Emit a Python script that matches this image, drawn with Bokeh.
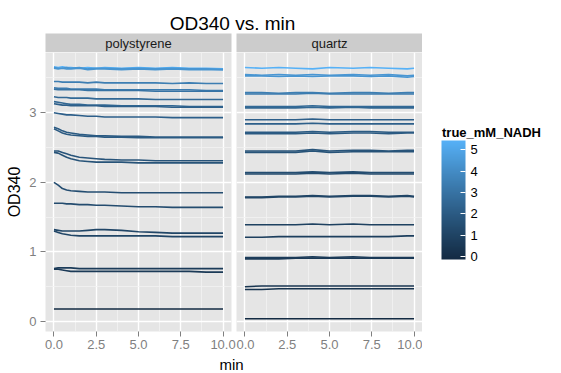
from bokeh.plotting import figure
from bokeh.layouts import row, column
from bokeh.models import (ColumnDataSource, FixedTicker, PrintfTickFormatter,
                          LinearColorMapper, ColorBar, Range1d, Label)
from bokeh.embed import file_html
from bokeh.resources import INLINE

FONT = "Liberation Sans"

# ---------------- data ----------------
panel_names = ["polystyrene", "quartz"]
chart_title = "OD340 vs. min"
x_title = "min"
y_title = "OD340"
legend_title = "true_mM_NADH"

x_breaks = [0, 2.5, 5, 7.5, 10]
x_minor = [1.25, 3.75, 6.25, 8.75]
y_breaks = [0, 1, 2, 3]
y_minor = [0.5, 1.5, 2.5, 3.5]
legend_breaks = [0, 1, 2, 3, 4, 5]
conc_limits = [-0.15, 5.44]

ps_time = [0, 0.25, 0.5, 0.75, 1, 1.5, 2, 2.5, 3, 4, 5, 6, 7, 8, 9, 10]
ps_conc = [5.44, 4.4, 4.35, 3.45, 3.35, 3.0, 2.6, 2.5, 2.2, 2.2, 2.0, 1.95,
           1.7, 1.65, 1.4, 1.35, 1.1, 1.05, 0.6, 0.55, -0.15]
ps_od = [
    [3.66, 3.65, 3.66, 3.65, 3.65, 3.64, 3.65, 3.64, 3.65, 3.64, 3.65, 3.64, 3.65, 3.64, 3.64, 3.63],
    [3.65, 3.64, 3.64, 3.65, 3.64, 3.65, 3.63, 3.64, 3.64, 3.63, 3.64, 3.63, 3.64, 3.63, 3.63, 3.62],
    [3.64, 3.63, 3.64, 3.63, 3.63, 3.64, 3.62, 3.63, 3.63, 3.62, 3.63, 3.62, 3.63, 3.62, 3.62, 3.62],
    [3.45, 3.45, 3.44, 3.44, 3.44, 3.44, 3.43, 3.44, 3.43, 3.43, 3.43, 3.43, 3.42, 3.43, 3.42, 3.42],
    [3.36, 3.35, 3.35, 3.35, 3.34, 3.34, 3.34, 3.34, 3.33, 3.33, 3.33, 3.33, 3.33, 3.33, 3.32, 3.32],
    [3.34, 3.33, 3.33, 3.33, 3.33, 3.33, 3.32, 3.32, 3.32, 3.32, 3.32, 3.31, 3.31, 3.31, 3.31, 3.31],
    [3.23, 3.22, 3.22, 3.22, 3.21, 3.21, 3.21, 3.20, 3.20, 3.20, 3.20, 3.19, 3.19, 3.19, 3.19, 3.19],
    [3.16, 3.15, 3.14, 3.13, 3.12, 3.12, 3.11, 3.11, 3.11, 3.10, 3.10, 3.10, 3.10, 3.09, 3.09, 3.09],
    [3.13, 3.12, 3.11, 3.11, 3.10, 3.10, 3.10, 3.10, 3.09, 3.09, 3.09, 3.09, 3.08, 3.08, 3.08, 3.08],
    [3.00, 2.99, 2.98, 2.97, 2.97, 2.96, 2.95, 2.95, 2.94, 2.94, 2.94, 2.94, 2.93, 2.93, 2.93, 2.93],
    [2.79, 2.77, 2.74, 2.72, 2.71, 2.69, 2.68, 2.67, 2.67, 2.66, 2.66, 2.65, 2.65, 2.65, 2.65, 2.65],
    [2.77, 2.74, 2.71, 2.69, 2.68, 2.67, 2.66, 2.66, 2.65, 2.65, 2.64, 2.64, 2.64, 2.64, 2.64, 2.64],
    [2.45, 2.45, 2.43, 2.41, 2.39, 2.36, 2.35, 2.34, 2.33, 2.32, 2.32, 2.31, 2.31, 2.31, 2.31, 2.31],
    [2.43, 2.42, 2.39, 2.36, 2.34, 2.31, 2.30, 2.29, 2.29, 2.29, 2.28, 2.28, 2.28, 2.28, 2.28, 2.28],
    [2.00, 1.96, 1.91, 1.89, 1.88, 1.87, 1.86, 1.86, 1.86, 1.85, 1.85, 1.85, 1.85, 1.85, 1.85, 1.85],
    [1.70, 1.70, 1.70, 1.69, 1.69, 1.68, 1.68, 1.67, 1.67, 1.66, 1.65, 1.65, 1.64, 1.64, 1.64, 1.64],
    [1.32, 1.31, 1.30, 1.30, 1.30, 1.30, 1.31, 1.32, 1.32, 1.31, 1.29, 1.28, 1.27, 1.27, 1.27, 1.27],
    [1.30, 1.28, 1.26, 1.25, 1.24, 1.23, 1.23, 1.23, 1.23, 1.23, 1.23, 1.23, 1.22, 1.22, 1.22, 1.22],
    [0.76, 0.77, 0.77, 0.77, 0.77, 0.76, 0.76, 0.76, 0.76, 0.76, 0.76, 0.76, 0.76, 0.76, 0.76, 0.76],
    [0.75, 0.75, 0.74, 0.73, 0.72, 0.72, 0.72, 0.72, 0.72, 0.72, 0.72, 0.72, 0.72, 0.72, 0.71, 0.71],
    [0.18, 0.18, 0.18, 0.18, 0.18, 0.18, 0.18, 0.18, 0.18, 0.18, 0.18, 0.18, 0.18, 0.18, 0.18, 0.18],
]

q_time = [0, 1, 2, 3, 4, 5, 6.4, 7.4, 8.5, 9.6, 10]
q_conc = [5.44, 4.4, 4.35, 3.45, 3.35, 2.6, 2.5, 2.2, 2.2, 2.0, 1.95, 1.7, 1.65,
          1.4, 1.35, 1.1, 1.05, 0.85, 0.8, 0.6, 0.55, 0.3, 0.25, -0.15]
q_od = [
    [3.65, 3.64, 3.65, 3.64, 3.63, 3.65, 3.64, 3.65, 3.64, 3.63, 3.64],
    [3.55, 3.54, 3.55, 3.54, 3.55, 3.54, 3.55, 3.54, 3.55, 3.53, 3.54],
    [3.53, 3.53, 3.52, 3.53, 3.52, 3.53, 3.53, 3.52, 3.53, 3.51, 3.52],
    [3.29, 3.29, 3.28, 3.29, 3.29, 3.28, 3.29, 3.29, 3.28, 3.29, 3.29],
    [3.27, 3.27, 3.27, 3.27, 3.28, 3.27, 3.27, 3.27, 3.27, 3.27, 3.27],
    [3.09, 3.09, 3.09, 3.09, 3.10, 3.09, 3.09, 3.09, 3.09, 3.09, 3.09],
    [3.07, 3.07, 3.07, 3.07, 3.08, 3.07, 3.08, 3.07, 3.07, 3.07, 3.07],
    [2.90, 2.90, 2.90, 2.90, 2.91, 2.90, 2.90, 2.90, 2.90, 2.90, 2.90],
    [2.84, 2.84, 2.84, 2.84, 2.85, 2.84, 2.84, 2.84, 2.84, 2.84, 2.84],
    [2.72, 2.72, 2.72, 2.72, 2.73, 2.72, 2.73, 2.73, 2.72, 2.72, 2.72],
    [2.70, 2.70, 2.70, 2.70, 2.71, 2.70, 2.71, 2.71, 2.70, 2.71, 2.71],
    [2.45, 2.45, 2.45, 2.45, 2.47, 2.45, 2.46, 2.46, 2.45, 2.46, 2.46],
    [2.43, 2.43, 2.43, 2.43, 2.45, 2.43, 2.44, 2.44, 2.44, 2.44, 2.44],
    [2.14, 2.14, 2.14, 2.14, 2.15, 2.14, 2.15, 2.14, 2.14, 2.14, 2.14],
    [2.12, 2.12, 2.12, 2.12, 2.13, 2.12, 2.13, 2.12, 2.12, 2.12, 2.12],
    [1.79, 1.79, 1.80, 1.80, 1.81, 1.80, 1.81, 1.81, 1.80, 1.81, 1.80],
    [1.78, 1.78, 1.79, 1.79, 1.80, 1.79, 1.80, 1.80, 1.79, 1.80, 1.79],
    [1.39, 1.39, 1.39, 1.39, 1.40, 1.39, 1.40, 1.39, 1.39, 1.39, 1.39],
    [1.21, 1.21, 1.22, 1.22, 1.22, 1.22, 1.22, 1.22, 1.22, 1.23, 1.23],
    [0.92, 0.92, 0.92, 0.92, 0.93, 0.92, 0.93, 0.92, 0.92, 0.92, 0.92],
    [0.90, 0.90, 0.90, 0.91, 0.91, 0.91, 0.91, 0.91, 0.91, 0.91, 0.91],
    [0.50, 0.51, 0.51, 0.51, 0.51, 0.51, 0.51, 0.51, 0.51, 0.51, 0.51],
    [0.46, 0.46, 0.47, 0.47, 0.47, 0.47, 0.47, 0.47, 0.47, 0.47, 0.47],
    [0.04, 0.04, 0.04, 0.04, 0.04, 0.04, 0.04, 0.04, 0.04, 0.04, 0.04],
]

# ---------------- colour scale (ggplot2 gradient, Lab interpolation) ----------------
LOW, HIGH = "#132B43", "#56B1F7"
WHITE = (0.95047, 1.0, 1.08883)


def _hex2rgb(h):
    h = h.lstrip("#")
    return [int(h[i:i + 2], 16) / 255.0 for i in (0, 2, 4)]


def _rgb2lab(h):
    def lin(c):
        return c / 12.92 if c <= 0.04045 else ((c + 0.055) / 1.055) ** 2.4
    r, g, b = [lin(c) for c in _hex2rgb(h)]
    X = 0.4124 * r + 0.3576 * g + 0.1805 * b
    Y = 0.2126 * r + 0.7152 * g + 0.0722 * b
    Z = 0.0193 * r + 0.1192 * g + 0.9505 * b

    def f(t):
        return t ** (1 / 3) if t > 0.008856 else 7.787 * t + 16 / 116
    fx, fy, fz = f(X / WHITE[0]), f(Y / WHITE[1]), f(Z / WHITE[2])
    return (116 * fy - 16, 500 * (fx - fy), 200 * (fy - fz))


def _lab2hex(L, a, b):
    fy = (L + 16) / 116
    fx = fy + a / 500
    fz = fy - b / 200

    def finv(t):
        return t ** 3 if t ** 3 > 0.008856 else (t - 16 / 116) / 7.787
    X, Y, Z = WHITE[0] * finv(fx), WHITE[1] * finv(fy), WHITE[2] * finv(fz)
    r = 3.2406 * X - 1.5372 * Y - 0.4986 * Z
    g = -0.9689 * X + 1.8758 * Y + 0.0415 * Z
    bb = 0.0557 * X - 0.2040 * Y + 1.0570 * Z

    def gam(c):
        c = 12.92 * c if c <= 0.0031308 else 1.055 * c ** (1 / 2.4) - 0.055
        return int(round(min(max(c, 0), 1) * 255))
    return "#%02x%02x%02x" % (gam(r), gam(g), gam(bb))


LAB_LO, LAB_HI = _rgb2lab(LOW), _rgb2lab(HIGH)


def grad(f):
    return _lab2hex(*[lo + (hi - lo) * f for lo, hi in zip(LAB_LO, LAB_HI)])


def conc_color(c):
    f = (c - conc_limits[0]) / (conc_limits[1] - conc_limits[0])
    return grad(min(max(f, 0.0), 1.0))


palette = [grad(i / 255.0) for i in range(256)]

# ---------------- layout constants ----------------
TOTAL_W, TOTAL_H = 561, 373
FRAME_W, FRAME_H = 186, 279
LEFT_B = 45
GAP = 5
STRIP_H = 19
AXIS_B = 23
TITLE_H = 33
XLAB_H = TOTAL_H - TITLE_H - STRIP_H - FRAME_H - AXIS_B
LEG_W = TOTAL_W - (LEFT_B + FRAME_W + GAP) - FRAME_W
X_RANGE = (-0.5, 10.5)
Y_RANGE = (-0.144, 3.866)

GREY_TXT = "#7F7F7F"


def base_fig(w, h, xr, yr, bg):
    p = figure(width=w, height=h, title=None, output_backend="svg",
               toolbar_location=None, x_axis_type=None, y_axis_type=None,
               x_range=xr, y_range=yr,
               outline_line_color=None, border_fill_color="white",
               background_fill_color=bg,
               min_border_left=0, min_border_right=0,
               min_border_top=0, min_border_bottom=0)
    return p


def add_text(p, x, y, text, size, align="center", style="normal", color="black"):
    p.add_layout(Label(x=x, y=y, x_units="data", y_units="data", text=text,
                       text_align=align, text_baseline="middle",
                       text_font=FONT, text_font_size=size,
                       text_font_style=style, text_color=color))


def make_strip(name, left, right):
    p = base_fig(left + FRAME_W + right, STRIP_H, Range1d(0, 1), Range1d(0, STRIP_H),
                 "#CCCCCC")
    p.min_border_left = left
    p.min_border_right = right
    add_text(p, 0.5, 9.0, name, "13px", color="#1A1A1A")
    return p


def make_panel(time, concs, ods, show_y):
    p = figure(frame_width=FRAME_W, frame_height=FRAME_H, title=None,
               output_backend="svg", toolbar_location=None,
               x_range=Range1d(*X_RANGE), y_range=Range1d(*Y_RANGE),
               background_fill_color="#E5E5E5", border_fill_color="white",
               outline_line_color=None,
               min_border_left=LEFT_B if show_y else 0,
               min_border_right=GAP if show_y else 0,
               min_border_top=0, min_border_bottom=AXIS_B)
    xt = FixedTicker(ticks=x_breaks, minor_ticks=x_minor)
    yt = FixedTicker(ticks=y_breaks, minor_ticks=y_minor)
    p.xaxis.ticker = xt
    p.yaxis.ticker = yt
    p.xgrid.ticker = xt
    p.ygrid.ticker = yt
    for g in (p.xgrid, p.ygrid):
        g.grid_line_color = "white"
        g.grid_line_width = 1.4
        g.minor_grid_line_color = "#F2F2F2"
        g.minor_grid_line_width = 0.8
    p.xaxis.formatter = PrintfTickFormatter(format="%.1f")
    for ax in (p.xaxis, p.yaxis):
        ax.axis_line_color = None
        ax.major_tick_line_color = GREY_TXT
        ax.major_tick_out = 5
        ax.major_tick_in = 0
        ax.minor_tick_line_color = None
        ax.major_label_text_color = GREY_TXT
        ax.major_label_text_font = FONT
        ax.major_label_text_font_size = "13px"
    p.xaxis.major_label_standoff = 3
    p.yaxis.major_label_standoff = 4
    if show_y:
        p.yaxis.axis_label = y_title
        p.yaxis.axis_label_text_font = FONT
        p.yaxis.axis_label_text_font_size = "16px"
        p.yaxis.axis_label_text_font_style = "normal"
        p.yaxis.axis_label_text_color = "black"
        p.yaxis.axis_label_standoff = 3
    else:
        p.yaxis.visible = False

    src = ColumnDataSource(dict(
        xs=[time for _ in ods],
        ys=ods,
        color=[conc_color(c) for c in concs],
    ))
    p.multi_line(xs="xs", ys="ys", line_color="color", line_width=1.6, source=src)
    return p


# title
title_fig = base_fig(TOTAL_W, TITLE_H, Range1d(0, TOTAL_W), Range1d(0, TITLE_H), "white")
add_text(title_fig, 232, 10.3, chart_title, "19px")

stripA = make_strip(panel_names[0], LEFT_B, GAP)
stripB = make_strip(panel_names[1], 0, 0)
panelA = make_panel(ps_time, ps_conc, ps_od, True)
panelB = make_panel(q_time, q_conc, q_od, False)

# legend (colour bar + title); the legend figure's y range is in mM units
leg_h = STRIP_H + FRAME_H + AXIS_B
BAR_X, BAR_W, BAR_H, BAR_BOTTOM = 19, 24, 119, leg_h - 226
per_px = (conc_limits[1] - conc_limits[0]) / BAR_H
leg_y0 = conc_limits[0] - BAR_BOTTOM * per_px
leg_fig = base_fig(LEG_W, leg_h, Range1d(0, LEG_W), Range1d(leg_y0, leg_y0 + leg_h * per_px),
                   "white")
add_text(leg_fig, BAR_X + 0.5, leg_y0 + (leg_h - 99) * per_px, legend_title, "13px",
         align="left", style="bold")
mapper = LinearColorMapper(palette=palette, low=conc_limits[0], high=conc_limits[1])
cbar = ColorBar(color_mapper=mapper, ticker=FixedTicker(ticks=legend_breaks),
                orientation="vertical",
                width=BAR_W, height=BAR_H, location=(BAR_X, BAR_BOTTOM),
                padding=0, margin=0,
                major_label_text_font=FONT, major_label_text_font_size="13px",
                major_label_text_color="black", label_standoff=5,
                major_tick_line_color="white", major_tick_in=5, major_tick_out=0,
                minor_tick_line_color=None, bar_line_color=None,
                border_line_color=None, background_fill_color=None)
leg_fig.add_layout(cbar, "center")
# white tick marks on the left edge of the bar (as ggplot2 draws them on both edges)
leg_fig.segment(x0=[BAR_X] * len(legend_breaks), x1=[BAR_X + 5] * len(legend_breaks),
                y0=legend_breaks, y1=legend_breaks, line_color="white", line_width=1)

# x-axis title
xlab_fig = base_fig(TOTAL_W, XLAB_H, Range1d(0, TOTAL_W), Range1d(0, XLAB_H), "white")
add_text(xlab_fig, 231, 9.0, x_title, "15px")

layout = column(
    title_fig,
    row(column(stripA, panelA), column(stripB, panelB), leg_fig),
    xlab_fig,
)

open("out.html", "w").write(file_html(layout, INLINE))
